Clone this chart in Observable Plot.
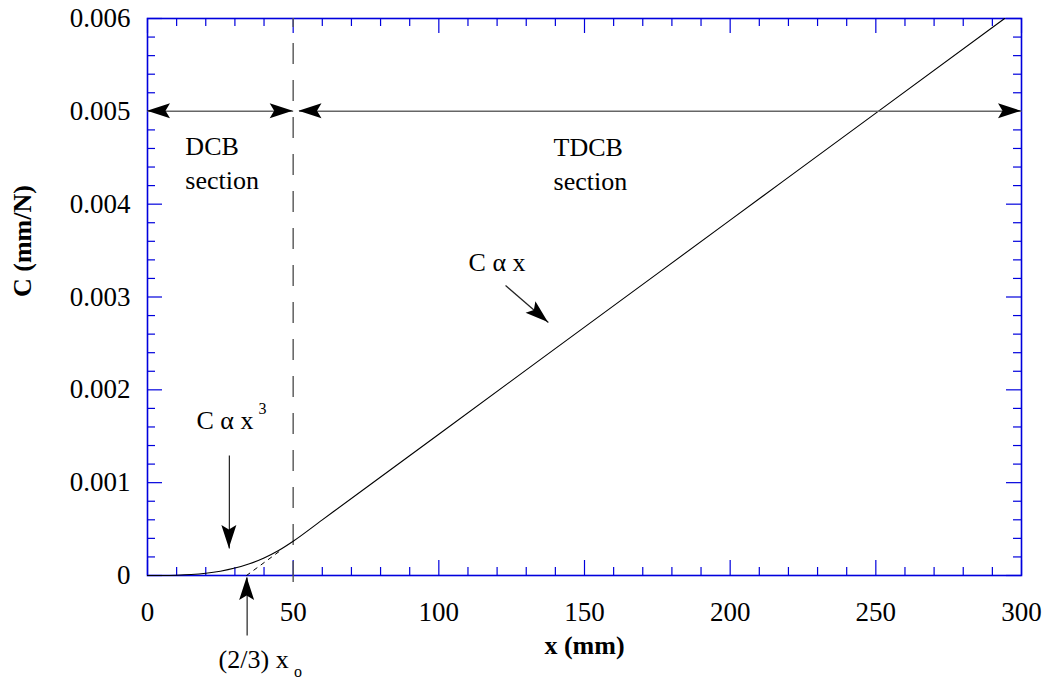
<!DOCTYPE html>
<html>
<head>
<meta charset="utf-8">
<script src="https://cdn.jsdelivr.net/npm/d3@7"></script>
<script src="https://cdn.jsdelivr.net/npm/@observablehq/plot@0.6"></script>
<style>
  html, body { margin: 0; padding: 0; background: #fff; }
  #chart { width: 1048px; height: 682px; }
</style>
</head>
<body>
<div id="chart"></div>
<script>
// ---- data ----
const xValues = [0, 5, 10, 15, 20, 25, 30, 35, 40, 45, 50, 60, 75, 100, 150, 200, 250, 294.2];
const cValues = [0, 0.00000037, 0.00000296, 0.00000997, 0.0000236, 0.0000462, 0.0000798, 0.0001267, 0.0001891, 0.0002693, 0.0003694, 0.0005996, 0.000945, 0.001522, 0.002675, 0.003828, 0.004981, 0.006];

// tangent (dashed) extension of the linear part, down to the axis at (2/3) x_o
const tangentX = [34, 46];
const tangentC = [0, 0.000277];

// section boundary and dimension-arrow level
const boundaryX = 50;
const sectionLevel = 0.005;

const xTickLabels = [0, 50, 100, 150, 200, 250, 300];
const yTickLabels = [0, 0.001, 0.002, 0.003, 0.004, 0.005, 0.006];

// annotation labels (data coordinates)
const labelText = ["DCB\nsection", "TDCB\nsection", "C α x", "C α x", "(2/3) x"];
const labelX    = [13.0, 139.4, 110.2, 16.8, 24.4];
const labelC    = [0.00446, 0.00445, 0.00340, 0.00170, -0.000883];
const supText = ["3", "o"];
const supX    = [38.1, 50.3];
const supC    = [0.00180, -0.00104];

// annotation arrows: from (x1,c1) to tip (x2,c2)
const arrowX1 = [122.9, 28.1, 34.2];
const arrowC1 = [0.003124, 0.001293, -0.000646];
const arrowX2 = [137.6, 28.1, 34.2];
const arrowC2 = [0.002725, 0.000291, -0.0000215];

// ---- build tables ----
const curve = xValues.map((x, i) => ({x, c: cValues[i]}));
const tangent = tangentX.map((x, i) => ({x, c: tangentC[i]}));
const labels = labelText.map((t, i) => ({t, x: labelX[i], c: labelC[i]}));
const sups = supText.map((t, i) => ({t, x: supX[i], c: supC[i]}));
const arrows = arrowX1.map((x1, i) => ({x1, c1: arrowC1[i], x2: arrowX2[i], c2: arrowC2[i]}));
const dimLines = [
  {x1: 0, x2: boundaryX, c: sectionLevel},
  {x1: boundaryX + 2, x2: 300, c: sectionLevel}
];
// heads: tip and the direction it comes from
const heads = [
  {x: 0, c: sectionLevel, fx: 10, fc: sectionLevel},
  {x: boundaryX, c: sectionLevel, fx: 40, fc: sectionLevel},
  {x: boundaryX + 2, c: sectionLevel, fx: 100, fc: sectionLevel},
  {x: 300, c: sectionLevel, fx: 250, fc: sectionLevel},
  ...arrows.map(a => ({x: a.x2, c: a.c2, fx: a.x1, fc: a.c1}))
];

const W = 1048, H = 682;
const mL = 147, mR = 27, mT = 18, mB = 107;
const innerW = W - mL - mR, innerH = H - mT - mB;
const blue = "#0000dd";
const font = "Liberation Serif, Times New Roman, serif";

const xMajor = d3.range(0, 301, 50);
const xMinor = d3.range(10, 300, 10).filter(v => v % 50 !== 0);
const yMajor = d3.range(0, 7).map(i => i * 0.001);
const yMinor = d3.range(1, 30).filter(i => i % 5 !== 0).map(i => i * 0.0002);

function arrowHeads(list) {
  return (index, scales) => {
    const ns = "http://www.w3.org/2000/svg";
    const g = document.createElementNS(ns, "g");
    for (const h of list) {
      const x = scales.x(h.x), y = scales.y(h.c);
      const x0 = scales.x(h.fx), y0 = scales.y(h.fc);
      const ang = Math.atan2(y - y0, x - x0) * 180 / Math.PI;
      const p = document.createElementNS(ns, "path");
      p.setAttribute("d", "M0,0L-23,-7.5L-18.5,0L-23,7.5Z");
      p.setAttribute("fill", "black");
      p.setAttribute("transform", `translate(${x},${y}) rotate(${ang})`);
      g.appendChild(p);
    }
    return g;
  };
}

const chart = Plot.plot({
  width: W, height: H,
  marginLeft: mL, marginRight: mR, marginTop: mT, marginBottom: mB,
  style: {fontFamily: font, fontSize: "27px", background: "white", color: "black"},
  x: {domain: [0, 300], ticks: xTickLabels, tickSize: 0, tickPadding: 26, label: null},
  y: {domain: [0, 0.006], ticks: yTickLabels, tickSize: 0, tickPadding: 17, label: null,
      tickFormat: d => d === 0 ? "0" : d3.format(".3f")(d)},
  marks: [
    // blue ticks (inward) on all four sides
    Plot.ruleX(xMajor, {stroke: blue, strokeWidth: 1.2, insetTop: innerH - 15}),
    Plot.ruleX(xMinor, {stroke: blue, strokeWidth: 1.2, insetTop: innerH - 8}),
    Plot.ruleX(xMajor, {stroke: blue, strokeWidth: 1.2, insetBottom: innerH - 15}),
    Plot.ruleX(xMinor, {stroke: blue, strokeWidth: 1.2, insetBottom: innerH - 8}),
    Plot.ruleY(yMajor, {stroke: blue, strokeWidth: 1.2, insetRight: innerW - 15}),
    Plot.ruleY(yMinor, {stroke: blue, strokeWidth: 1.2, insetRight: innerW - 8}),
    Plot.ruleY(yMajor, {stroke: blue, strokeWidth: 1.2, insetLeft: innerW - 15}),
    Plot.ruleY(yMinor, {stroke: blue, strokeWidth: 1.2, insetLeft: innerW - 8}),
    Plot.frame({stroke: blue, strokeWidth: 1.6}),
    // section boundary
    Plot.ruleX([boundaryX], {y1: -0.000075, y2: 0.006, stroke: "#555", strokeWidth: 1.4, strokeDasharray: "21,16"}),
    // curve and tangent
    Plot.line(curve, {x: "x", y: "c", stroke: "black", strokeWidth: 1.1, curve: "monotone-x"}),
    Plot.line(tangent, {x: "x", y: "c", stroke: "black", strokeWidth: 1, strokeDasharray: "4,5"}),
    // dimension lines
    Plot.link(dimLines, {x1: "x1", x2: "x2", y1: "c", y2: "c", stroke: "#666", strokeWidth: 1.5}),
    // annotation arrow shafts
    Plot.link(arrows, {x1: "x1", y1: "c1", x2: "x2", y2: "c2", stroke: "#222", strokeWidth: 1.2}),
    arrowHeads(heads),
    // labels
    Plot.text(labels, {x: "x", y: "c", text: "t", textAnchor: "start", fontSize: 26, fontFamily: font, lineHeight: 1.3, fill: "black"}),
    Plot.text(sups, {x: "x", y: "c", text: "t", textAnchor: "start", fontSize: 16, fontFamily: font, fill: "black"}),
    // axis titles
    Plot.text(["x (mm)"], {frameAnchor: "bottom", dy: 78, fontSize: 26, fontWeight: "bold", fontFamily: font, fill: "black"}),
    Plot.text(["C (mm/N)"], {frameAnchor: "left", dx: -125, rotate: -90, fontSize: 26, fontWeight: "bold", fontFamily: font, fill: "black"})
  ]
});
document.getElementById("chart").appendChild(chart);
</script>
</body>
</html>
